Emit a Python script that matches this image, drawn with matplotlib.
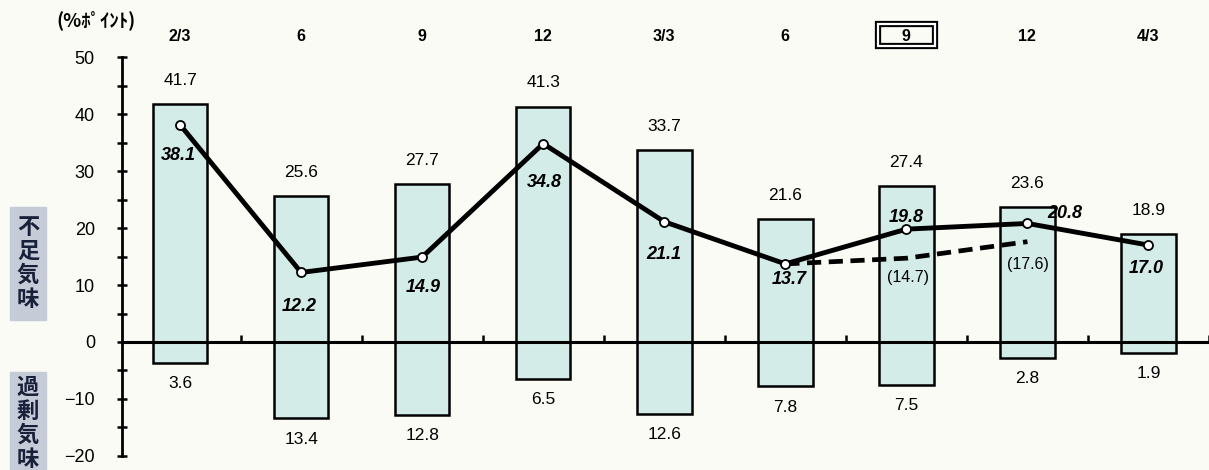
import numpy as np
import matplotlib.pyplot as plt
from matplotlib.patches import Rectangle
from matplotlib.transforms import blended_transform_factory

plt.rcParams['font.family'] = ['Liberation Sans', 'Noto Sans CJK JP', 'DejaVu Sans']

# survey dates (top labels)
periods = ['2/3', '6', '9', '12', '3/3', '6', '9', '12', '4/3']
# share answering "shortage" and "excess" (%)
shortage = [41.7, 25.6, 27.7, 41.3, 33.7, 21.6, 27.4, 23.6, 18.9]
excess = [3.6, 13.4, 12.8, 6.5, 12.6, 7.8, 7.5, 2.8, 1.9]
# net balance (shortage - excess)
net = [38.1, 12.2, 14.9, 34.8, 21.1, 13.7, 19.8, 20.8, 17.0]
# earlier forecast from the 6 survey
forecast_idx = [5, 6, 7]
forecast = [13.7, 14.7, 17.6]
highlight = 6  # current survey, boxed

# label offsets in points (dx, dy) for net and forecast values
net_offsets = [(-1.5, -22), (-1.5, -24.5), (0.7, -21.6), (0.7, -28), (-0.7, -23.8),
               (3, -11), (0, 8.6), (26.6, 7.2), (-1.5, -16.6)]
forecast_offsets = [(1.4, -13.7), (0.7, -16.6)]

bg = '#fbfbf6'
bar_color = '#d4ece7'

fig = plt.figure(figsize=(12.09, 4.70), dpi=100, facecolor=bg)
ax = fig.add_axes([0.1009, 0.0298, 0.8991, 0.8489])
ax.set_facecolor(bg)

x = np.arange(len(periods))
w = 0.45
ax.bar(x, shortage, width=w, color=bar_color, edgecolor='black', linewidth=1.8, zorder=1)
ax.bar(x, [-v for v in excess], width=w, color=bar_color, edgecolor='black', linewidth=1.8, zorder=1)

ax.plot(x, net, color='black', lw=3.5, marker='o', ms=6.5, mfc='white', mec='black', mew=1.3, zorder=4)
ax.plot(forecast_idx, forecast, color='black', lw=3.4, linestyle=(0, (3, 1.6)), zorder=3)

for i in range(len(periods)):
    ax.annotate(f'{shortage[i]:.1f}', (x[i], shortage[i]), xytext=(0, 17), textcoords='offset points',
                ha='center', va='center', fontsize=12.5)
    ax.annotate(f'{excess[i]:.1f}', (x[i], -excess[i]), xytext=(0, -15), textcoords='offset points',
                ha='center', va='center', fontsize=12.5)
    ax.annotate(f'{net[i]:.1f}', (x[i], net[i]), xytext=net_offsets[i], textcoords='offset points',
                ha='center', va='center', fontsize=13, fontweight='bold', fontstyle='italic')

for k, i in enumerate(forecast_idx[1:]):
    v = forecast[k + 1]
    ax.annotate(f'({v:.1f})', (i, v), xytext=forecast_offsets[k], textcoords='offset points',
                ha='center', va='center', fontsize=11.5)

ax.set_xlim(-0.48, len(periods) - 0.5)
ax.set_ylim(-20, 50)

for s in ['top', 'right']:
    ax.spines[s].set_visible(False)
ax.spines['bottom'].set_position(('data', 0))
ax.spines['bottom'].set_linewidth(2.2)
ax.spines['left'].set_linewidth(2.0)

ax.set_xticks(x + 0.5)
ax.set_xticklabels([])
ax.tick_params(axis='x', direction='in', length=5, width=1.8)
ax.set_yticks(np.arange(-20, 51, 10))
ax.set_yticks(np.arange(-15, 50, 10), minor=True)
ax.tick_params(axis='y', which='both', direction='inout', length=7, width=1.8, pad=16, labelsize=13)

# period labels above the plot
tr = blended_transform_factory(ax.transData, fig.transFigure)
for i, p in enumerate(periods):
    ax.text(x[i], 0.923, p, transform=tr, ha='center', va='center', fontsize=11.5, fontweight='bold')
# double frame around the current survey
for lw, ec in [(4.5, 'black'), (1.6, 'white')]:
    ax.add_patch(Rectangle((x[highlight] - 0.235, 0.902), 0.47, 0.047, transform=tr, fill=False,
                           lw=lw, ec=ec, clip_on=False, zorder=5))

fig.text(0.079, 0.958, '(%ﾎﾟｲﾝﾄ)', ha='center', va='center', fontsize=13.5, fontweight='bold',
         family=['Noto Sans CJK JP', 'DejaVu Sans'])

# side labels
for (y0, y1, txt) in [(207, 320, '不足気味'), (372, 475, '過剰気味')]:
    fig.patches.append(Rectangle((10 / 1209, 1 - y1 / 470), 36 / 1209, (y1 - y0) / 470,
                                 transform=fig.transFigure, color='#c6ccd7', zorder=0))
    fig.text(28 / 1209, 1 - (y0 + y1) / 2 / 470, '\n'.join(txt), ha='center', va='center',
             fontsize=16, fontweight='bold', color='#18203a', linespacing=1.05,
             family=['Noto Sans CJK JP', 'DejaVu Sans'])

fig.savefig('out.png', dpi=100, facecolor=bg)
